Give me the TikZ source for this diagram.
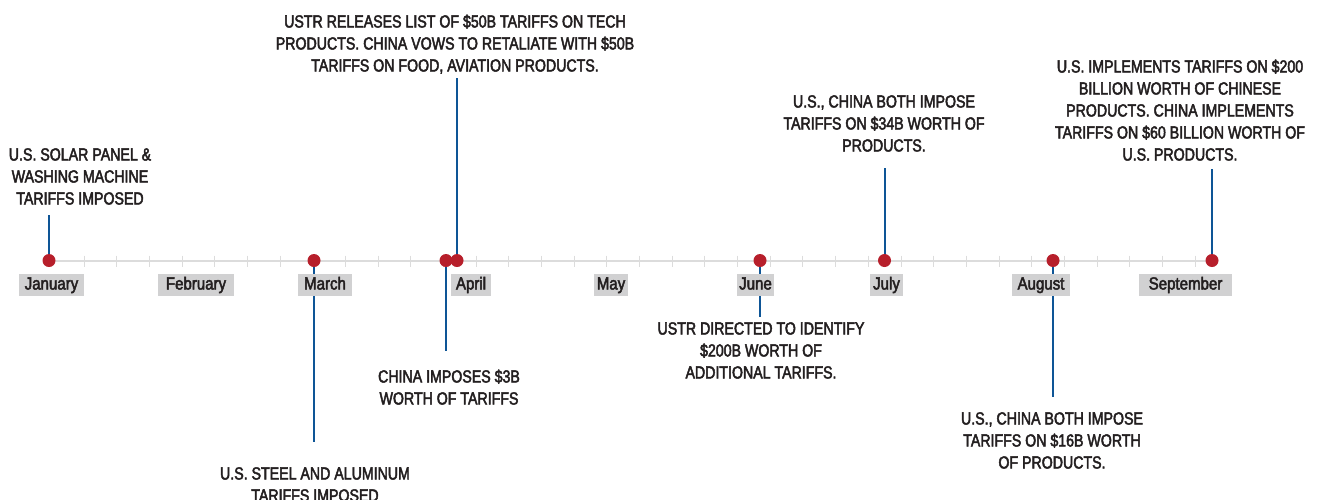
\documentclass[tikz,border=0pt]{standalone}
\usepackage{fontspec}
\newfontfamily\condfont[FakeStretch=0.81,FakeBold=2.6]{Liberation Sans}
\newfontfamily\monthfont[FakeStretch=0.86,FakeBold=2.6]{Liberation Sans}
\definecolor{axisgray}{HTML}{DCDCDC}
\definecolor{stemblue}{HTML}{0E5596}
\definecolor{dotred}{HTML}{B71F2B}
\definecolor{labelgray}{HTML}{D1D1D2}
\definecolor{inkgray}{HTML}{231F20}
\tikzset{
  dot/.style={circle,fill=dotred,inner sep=0pt,minimum size=13pt},
  stem/.style={draw=stemblue,line width=2pt},
  evtext/.style={font=\condfont\fontsize{17.5}{22}\selectfont,text=inkgray,align=center,inner sep=0pt,anchor=base},
  monthlabel/.style={fill=labelgray,font=\monthfont\fontsize{17.5}{20}\selectfont,text=inkgray,inner sep=0pt,minimum height=22pt,text depth=4pt,text height=13pt},
  tickmark/.style={draw=axisgray,line width=1pt},
  axisline/.style={draw=axisgray,line width=2pt}
}
\begin{document}
\begin{tikzpicture}[x=1pt,y=-1pt]
\useasboundingbox (0,0) rectangle (1317,499);
% axis
\coordinate (axL) at (49,261);
\coordinate (axR) at (1212,261);
\draw[axisline] (axL) -- (axR);
\foreach \k in {0,...,34}{
  \draw[tickmark] ({84+32.68*\k},255.5) -- ({84+32.68*\k},266.5);
}
% stem ends
\coordinate (sJan) at (49,215);
\coordinate (sMar) at (314,442);
\coordinate (sAprA) at (446,351);
\coordinate (sAprB) at (457,78);
\coordinate (sJun) at (760,317);
\coordinate (sJul) at (884.5,168);
\coordinate (sAug) at (1053,397);
\coordinate (sSep) at (1212,169);
% dot positions
\coordinate (pJan) at (49,260.5);
\coordinate (pMar) at (314,260.5);
\coordinate (pAprA) at (446,260.5);
\coordinate (pAprB) at (457,260.5);
\coordinate (pJun) at (760,260.5);
\coordinate (pJul) at (884.5,260.5);
\coordinate (pAug) at (1053,260.5);
\coordinate (pSep) at (1212,260.5);
% stems
\draw[stem] (pJan) -- (sJan);
\draw[stem] (pMar) -- (sMar);
\draw[stem] (pAprA) -- (sAprA);
\draw[stem] (pAprB) -- (sAprB);
\draw[stem] (pJun) -- (sJun);
\draw[stem] (pJul) -- (sJul);
\draw[stem] (pAug) -- (sAug);
\draw[stem] (pSep) -- (sSep);
% dots
\node[dot] (dJan) at (pJan) {};
\node[dot] (dMar) at (pMar) {};
\node[dot] (dAprA) at (pAprA) {};
\node[dot] (dAprB) at (pAprB) {};
\node[dot] (dJun) at (pJun) {};
\node[dot] (dJul) at (pJul) {};
\node[dot] (dAug) at (pAug) {};
\node[dot] (dSep) at (pSep) {};
% month labels
\node[monthlabel,minimum width=65pt] (mJan) at (51.5,285) {January};
\node[monthlabel,minimum width=76pt] (mFeb) at (196,285) {February};
\node[monthlabel,minimum width=54pt] (mMar) at (325,285) {March};
\node[monthlabel,minimum width=40pt] (mApr) at (471,285) {April};
\node[monthlabel,minimum width=34pt] (mMay) at (611,285) {May};
\node[monthlabel,minimum width=37pt] (mJun) at (755.5,285) {June};
\node[monthlabel,minimum width=33pt] (mJul) at (886.5,285) {July};
\node[monthlabel,minimum width=58pt] (mAug) at (1041,285) {August};
\node[monthlabel,minimum width=93pt] (mSep) at (1185.5,285) {September};
% event texts (anchor = baseline of last line)
\node[evtext] (tJan) at (80,204.5) {U.S. SOLAR PANEL \&\\WASHING MACHINE\\TARIFFS IMPOSED};
\node[evtext] (tMar) at (315,501.5) {U.S. STEEL AND ALUMINUM\\TARIFFS IMPOSED};
\node[evtext] (tAprA) at (449,404.5) {CHINA IMPOSES \$3B\\WORTH OF TARIFFS};
\node[evtext] (tAprB) at (455,71.5) {USTR RELEASES LIST OF \$50B TARIFFS ON TECH\\PRODUCTS. CHINA VOWS TO RETALIATE WITH \$50B\\TARIFFS ON FOOD, AVIATION PRODUCTS.};
\node[evtext] (tJun) at (761,378.5) {USTR DIRECTED TO IDENTIFY\\\$200B WORTH OF\\ADDITIONAL TARIFFS.};
\node[evtext] (tJul) at (884,151.5) {U.S., CHINA BOTH IMPOSE\\TARIFFS ON \$34B WORTH OF\\PRODUCTS.};
\node[evtext] (tAug) at (1052,468.5) {U.S., CHINA BOTH IMPOSE\\TARIFFS ON \$16B WORTH\\OF PRODUCTS.};
\node[evtext] (tSep) at (1180,160.5) {U.S. IMPLEMENTS TARIFFS ON \$200\\BILLION WORTH OF CHINESE\\PRODUCTS. CHINA IMPLEMENTS\\TARIFFS ON \$60 BILLION WORTH OF\\U.S. PRODUCTS.};
\end{tikzpicture}
\end{document}
